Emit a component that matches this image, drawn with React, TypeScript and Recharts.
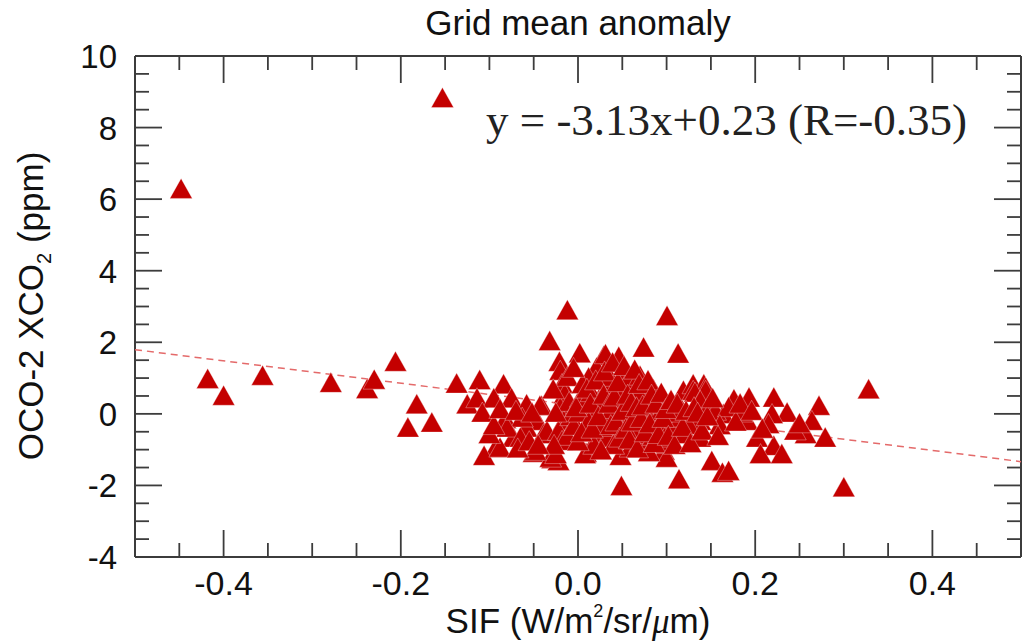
import React from 'react';
import { ScatterChart, Scatter, XAxis, YAxis } from 'recharts';

// SIF anomaly (x) and OCO-2 XCO2 anomaly (y) for each grid cell
const sifX = [
  -0.448, -0.153, -0.418, -0.400, -0.356, -0.279, -0.238, -0.230, -0.206, -0.182,
  -0.192, -0.165, -0.137, -0.111, -0.084, -0.125, -0.114, -0.095, -0.075, -0.108,
  -0.082, -0.041, -0.046, -0.058, -0.073, -0.093, -0.106, -0.050, -0.029, -0.022,
  -0.058, -0.063, -0.080, -0.065, -0.088, -0.039, -0.035, -0.031, -0.048, -0.043,
  -0.032, -0.012, -0.021, -0.020, -0.018, -0.015, -0.020, -0.016, -0.022, -0.018,
  -0.025, -0.012, -0.010, -0.008, -0.012,
  0.002, 0.029, 0.046, 0.009, 0.048, 0.049, 0.006, 0.021, 0.012, 0.003,
  0.018, 0.033, 0.044, 0.059, 0.052, 0.033, 0.044, 0.021, -0.005, 0.001,
  0.053, 0.031, 0.033, 0.033, 0.063, 0.059, 0.008, 0.015, 0.025, 0.038,
  0.012, 0.027, 0.040, 0.055, 0.048, 0.062, 0.018, 0.036, 0.005, 0.057,
  0.1005, 0.074, 0.113, 0.070, 0.078, 0.082, 0.093, 0.104, 0.070, 0.070,
  0.097, 0.100, 0.114, 0.074, 0.100, 0.108, 0.116, 0.089, 0.089, 0.093,
  0.106, 0.116, 0.119, 0.130, 0.142, 0.138, 0.138, 0.134, 0.130, 0.144,
  0.078, 0.085, 0.068, 0.095, 0.110, 0.075, 0.065, 0.085, 0.120, 0.125,
  0.098, 0.080,
  0.328, 0.132, 0.144, 0.138, 0.149, 0.176, 0.193, 0.221, 0.236, 0.219,
  0.272, 0.264, 0.257, 0.279, 0.164, 0.191, 0.215, 0.202, 0.221, 0.206,
  0.230, 0.151, 0.163, 0.170, 0.300, 0.155, 0.170, 0.185, 0.160,
  -0.028, -0.025, -0.027, -0.005, -0.002, 0.000, 0.004, 0.010, 0.014, 0.016,
  0.020, 0.023, 0.026, 0.029, 0.030, 0.035, 0.037, 0.039, 0.041, 0.043,
  0.045, 0.047, 0.050, 0.052, 0.054, 0.056, 0.058, 0.060, 0.061, 0.064,
  0.066, 0.067, 0.069, 0.071, 0.073, 0.076, 0.079, 0.081, 0.083, 0.086,
  0.088, 0.091, 0.094, 0.096, 0.099, 0.102, 0.105, 0.109, 0.112, 0.118,
  0.122, 0.127, 0.131, 0.135, 0.140, 0.146, 0.152, 0.158, 0.178, 0.183,
  0.196, 0.208, 0.245, 0.250,
  -0.100, -0.095, -0.088, -0.070, -0.068, -0.055, -0.052, -0.045,
];
const xco2Y = [
  6.30, 8.84, 0.99, 0.52, 1.08, 0.88, 0.71, 0.97, 1.47, 0.28,
  -0.37, -0.23, 0.86, 0.96, 0.84, 0.28, 0.45, 0.45, 0.45, 0.05,
  -0.13, 0.24, -0.18, -0.37, -0.65, -0.93, -1.16, -1.07, -1.25, -1.30,
  0.28, -0.09, -0.37, -0.65, -0.93, -0.55, -0.46, -1.21, -1.02, 0.24,
  2.05, 2.91, 1.47, 1.22, 0.85, 0.57, 0.19, -0.18, -0.46, -0.74,
  -1.11, 1.05, 0.35, -0.05, -0.60,
  1.71, 1.63, 1.61, -1.07, -1.16, -2.00, 0.38, 1.31, 1.03, 0.47,
  0.19, 0.84, 0.66, 0.80, 0.28, -0.09, -0.46, -0.65, -0.32, 0.05,
  1.17, 1.68, 0.75, -0.65, -0.37, -0.93, -1.11, 0.62, 0.40, 0.15,
  -0.20, -0.35, -0.85, -0.15, 0.45, 0.05, -0.85, 1.05, 0.85, 0.98,
  2.75, 1.87, 1.70, 1.08, 0.38, 0.10, 0.01, -0.37, -0.37, -0.79,
  -1.02, -1.21, -1.81, -0.74, -0.83, -0.27, 0.19, 0.10, -0.46, -0.23,
  -0.46, -0.09, 0.66, 0.84, 0.84, -0.18, -0.65, -0.18, 0.66, 0.75,
  0.47, 0.70, 0.60, 0.30, 0.05, -0.10, -0.55, -0.60, -0.55, -0.30,
  -0.65, -1.05,
  0.70, 0.61, 0.66, 0.38, 0.28, 0.42, 0.47, 0.47, 0.05, 0.01,
  0.24, -0.18, -0.55, -0.65, 0.01, -0.18, -0.27, -0.65, -0.88, -1.11,
  -1.11, -1.30, -1.63, -1.58, -2.04, 0.10, 0.20, 0.05, -0.30,
  0.70, 0.05, -0.85, 1.30, 0.20, -0.75, -0.50, 0.72, 0.30, -0.40,
  0.95, -0.05, -1.00, 0.55, 1.20, 0.30, -0.30, 1.45, 0.50, -0.20,
  0.90, -0.65, 0.10, 1.35, -0.40, 0.55, -0.70, 0.35, -0.20, 1.25,
  0.20, -0.95, 0.85, -0.10, 0.25, -0.50, 0.95, -0.25, 0.55, -0.80,
  0.30, -0.55, 0.60, -0.10, 0.15, -0.60, 0.40, -0.85, 0.30, -0.35,
  0.10, -0.80, 0.20, 0.05, -0.45, -0.05, 0.45, -0.60, -0.20, 0.30,
  0.10, -0.40, -0.45, -0.25,
  -0.55, -0.30, 0.15, 0.10, -0.95, -0.75, 0.05, -0.85,
];

// Linear fit shown in the panel
const fitSlope = -3.13;
const fitIntercept = 0.23;
const fitR = -0.35;

const xDomain = [-0.5, 0.5];
const yDomain = [-4, 10];
const xTicks = [-0.45, -0.4, -0.35, -0.3, -0.25, -0.2, -0.15, -0.1, -0.05, 0, 0.05, 0.1, 0.15, 0.2, 0.25, 0.3, 0.35, 0.4, 0.45];
const xMajor = [-0.4, -0.2, 0, 0.2, 0.4];
const yTicks = [-4, -3.5, -3, -2.5, -2, -1.5, -1, -0.5, 0, 0.5, 1, 1.5, 2, 2.5, 3, 3.5, 4, 4.5, 5, 5.5, 6, 6.5, 7, 7.5, 8, 8.5, 9, 9.5, 10];
const yMajor = [-4, -2, 0, 2, 4, 6, 8, 10];

const points = sifX.map((x, i) => ({ x, y: xco2Y[i] }));
const fitLine = xDomain.map((x) => ({ x, y: fitSlope * x + fitIntercept }));

const SANS = '"Liberation Sans", Arial, Helvetica, sans-serif';
const SERIF = '"Liberation Serif", "Times New Roman", serif';
const AXIS = '#3c3c3c';
const MARK = '#c40000';
const MAJOR_LEN = 27;
const MINOR_LEN = 14;

const isMajor = (v: number, list: number[]) => list.some((m) => Math.abs(m - v) < 1e-9);
const fmtX = (v: number) => (Math.abs(v) < 1e-9 ? '0.0' : v.toFixed(1));

const BottomTick = (props: any) => {
  const { x, y, payload } = props;
  const v = payload.value;
  const major = isMajor(v, xMajor);
  return (
    <g>
      <line x1={x} y1={y} x2={x} y2={y - (major ? MAJOR_LEN : MINOR_LEN)} stroke={AXIS} strokeWidth={1.8} />
      {major && (
        <text x={x} y={y + 38} textAnchor="middle" fontSize={34} fontFamily={SANS} fill="#111">
          {fmtX(v)}
        </text>
      )}
    </g>
  );
};

const TopTick = (props: any) => {
  const { x, y, payload } = props;
  const major = isMajor(payload.value, xMajor);
  return <line x1={x} y1={y} x2={x} y2={y + (major ? MAJOR_LEN : MINOR_LEN)} stroke={AXIS} strokeWidth={1.8} />;
};

const LeftTick = (props: any) => {
  const { x, y, payload } = props;
  const v = payload.value;
  const major = isMajor(v, yMajor);
  return (
    <g>
      <line x1={x} y1={y} x2={x + (major ? MAJOR_LEN : MINOR_LEN)} y2={y} stroke={AXIS} strokeWidth={1.8} />
      {major && (
        <text x={x - 18} y={y + 12} textAnchor="end" fontSize={33} fontFamily={SANS} fill="#111">
          {String(v)}
        </text>
      )}
    </g>
  );
};

const RightTick = (props: any) => {
  const { x, y, payload } = props;
  const major = isMajor(payload.value, yMajor);
  return <line x1={x} y1={y} x2={x - (major ? MAJOR_LEN : MINOR_LEN)} y2={y} stroke={AXIS} strokeWidth={1.8} />;
};

const Triangle = (props: any) => {
  const { cx, cy } = props;
  if (cx == null || cy == null) return <g />;
  return (
    <polygon
      points={`${cx},${cy - 10} ${cx - 11.2},${cy + 10} ${cx + 11.2},${cy + 10}`}
      fill={MARK}
      stroke="#ffffff"
      strokeOpacity={0.45}
      strokeWidth={0.7}
    />
  );
};

const NoMark = () => <g />;

export default function App() {
  const W = 1023;
  const H = 642;
  const eq = `y = ${fitSlope.toFixed(2)}x+${fitIntercept.toFixed(2)} (R=${fitR.toFixed(2)})`;
  return (
    <div style={{ position: 'absolute', left: 0, top: 0, width: W, height: H, background: '#fff' }}>
      <ScatterChart width={W} height={H} margin={{ top: 55, right: 1, bottom: 0, left: 0 }}>
        <XAxis
          xAxisId={0}
          type="number"
          dataKey="x"
          domain={xDomain}
          allowDataOverflow
          ticks={xTicks}
          interval={0}
          height={85}
          tickSize={0}
          tickMargin={0}
          tickLine={false}
          tick={<BottomTick />}
          axisLine={{ stroke: AXIS, strokeWidth: 2 }}
        />
        <XAxis
          xAxisId="top"
          orientation="top"
          type="number"
          dataKey="x"
          domain={xDomain}
          allowDataOverflow
          ticks={xTicks}
          interval={0}
          height={1}
          tickSize={0}
          tickMargin={0}
          tickLine={false}
          tick={<TopTick />}
          axisLine={{ stroke: AXIS, strokeWidth: 2 }}
        />
        <YAxis
          yAxisId={0}
          type="number"
          dataKey="y"
          domain={yDomain}
          allowDataOverflow
          ticks={yTicks}
          interval={0}
          width={135}
          tickSize={0}
          tickMargin={0}
          tickLine={false}
          tick={<LeftTick />}
          axisLine={{ stroke: AXIS, strokeWidth: 2 }}
        />
        <YAxis
          yAxisId="right"
          orientation="right"
          type="number"
          dataKey="y"
          domain={yDomain}
          allowDataOverflow
          ticks={yTicks}
          interval={0}
          width={1}
          tickSize={0}
          tickMargin={0}
          tickLine={false}
          tick={<RightTick />}
          axisLine={{ stroke: AXIS, strokeWidth: 2 }}
        />
        <Scatter
          data={fitLine}
          xAxisId="top"
          yAxisId="right"
          shape={<NoMark />}
          isAnimationActive={false}
        />
        <Scatter
          data={fitLine}
          xAxisId={0}
          yAxisId={0}
          line={{ stroke: '#e46a6a', strokeWidth: 1.5, strokeDasharray: '7 5' }}
          shape={<NoMark />}
          isAnimationActive={false}
        />
        <Scatter data={points} xAxisId={0} yAxisId={0} shape={<Triangle />} isAnimationActive={false} />
      </ScatterChart>
      <svg
        width={W}
        height={H}
        style={{ position: 'absolute', left: 0, top: 0, pointerEvents: 'none' }}
      >
        <text x={578} y={35} textAnchor="middle" fontSize={35} fontFamily={SANS} fill="#111">
          Grid mean anomaly
        </text>
        <text x={486} y={135} fontSize={45} fontFamily={SERIF} fill="#222">
          {eq}
        </text>
        <text x={578} y={633} textAnchor="middle" fontSize={35} fontFamily={SANS} fill="#111">
          SIF (W/m
          <tspan fontSize={18} dy={-16}>2</tspan>
          <tspan dy={16}>/sr/</tspan>
          <tspan fontStyle="italic" fontFamily={SERIF}>μ</tspan>
          <tspan>m)</tspan>
        </text>
        <text
          x={43}
          y={306}
          transform="rotate(-90 43 306)"
          textAnchor="middle"
          fontSize={35}
          fontFamily={SANS}
          fill="#111"
        >
          OCO-2 XCO
          <tspan fontSize={20} dy={8}>2</tspan>
          <tspan dy={-8}> (ppm)</tspan>
        </text>
      </svg>
    </div>
  );
}
